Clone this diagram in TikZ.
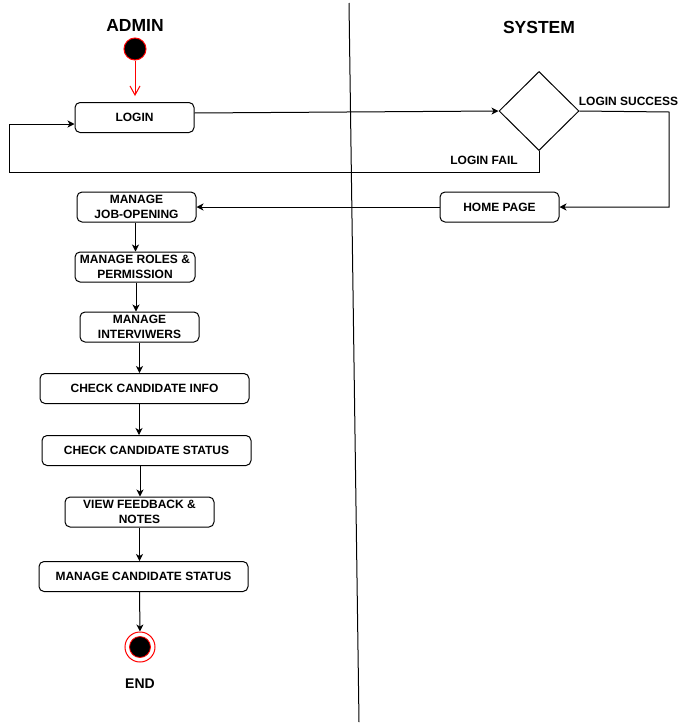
\documentclass[tikz,border=0pt]{standalone}
\usepackage{fontspec}
\setmainfont{Liberation Sans}
\usetikzlibrary{arrows.meta,shapes.geometric}
\begin{document}
\begin{tikzpicture}[x=1pt,y=-1pt,
  font=\fontsize{12}{14.5}\selectfont\bfseries,
  act/.style={draw, rounded corners=5pt, line width=1pt, minimum height=30pt,
              inner sep=0pt, align=center, fill=white},
  flow/.style={draw, line width=1pt, -{Stealth[length=7pt,width=7pt,inset=2pt]}},
  lanetitle/.style={font=\fontsize{17.5}{20}\selectfont\bfseries},
  lbl/.style={inner sep=0pt}
]
\useasboundingbox (0,0) rectangle (686,726);

% swimlane divider
\coordinate (laneTop) at (349,3);
\coordinate (laneBot) at (359,722);
\draw[line width=1pt] (laneTop) -- (laneBot);

% lane titles
\node[lanetitle] (admin) at (135,25) {ADMIN};
\node[lanetitle] (system) at (539,27) {SYSTEM};

% initial state
\node[circle, fill=black, draw=red, line width=1pt, minimum size=22pt, inner sep=0pt] (start) at (135,49) {};

% activities
\node[act, minimum width=119pt] (login) at (134.5,117.5) {LOGIN};
\node[draw, line width=1pt, diamond, aspect=1, minimum width=80pt, minimum height=79pt, inner sep=0pt] (dec) at (539,111) {};
\node[act, minimum width=119pt] (home) at (499.5,207) {HOME PAGE};
\node[act, minimum width=119pt] (job) at (136.5,207) {MANAGE\\JOB-OPENING};
\node[act, minimum width=120pt] (roles) at (135,267) {MANAGE ROLES \&\\PERMISSION};
\node[act, minimum width=119pt] (intv) at (139.5,327) {MANAGE\\INTERVIWERS};
\node[act, minimum width=209pt] (info) at (144.5,388.5) {CHECK CANDIDATE INFO};
\node[act, minimum width=209pt] (status) at (146.5,450.5) {CHECK CANDIDATE STATUS};
\node[act, minimum width=149pt] (feed) at (139.5,512) {VIEW FEEDBACK \&\\NOTES};
\node[act, minimum width=209pt] (mstat) at (143.5,576.5) {MANAGE CANDIDATE STATUS};

% final state
\node[circle, draw=red, fill=white, line width=1pt, minimum size=30pt, inner sep=0pt] (endo) at (140,647) {};
\node[circle, draw=red, fill=black, line width=0.8pt, minimum size=21pt, inner sep=0pt] (endi) at (endo) {};
\node[font=\fontsize{14}{16}\selectfont\bfseries] (endlbl) at (140,684) {END};

% guard labels
\node[lbl] (succ) at (628.5,101) {LOGIN SUCCESS};
\node[lbl] (fail) at (484,160) {LOGIN FAIL};

% connectors
\draw[red, line width=1pt, shorten >=6pt, -{Straight Barb[length=9pt,width=10pt]}] (start.south) -- (start.south |- login.north);
\draw[flow] ([yshift=4.5pt]login.east) -- (dec.west);
\coordinate (succTurn) at (669,112);
\draw[flow] (dec.east) -- (succTurn) |- (home.east);
\coordinate (failLow) at (539,172);
\coordinate (failLeft) at (9,172);
\draw[flow] (dec.south) -- (failLow) -- (failLeft) |- ([yshift=-6.5pt]login.west);
\draw[flow] (home.west) -- (job.east);
\draw[flow] ([xshift=-1pt]job.south) -- ([xshift=-1pt]job.south |- roles.north);
\draw[flow] ([xshift=1pt]roles.south) -- ([xshift=1pt]roles.south |- intv.north);
\draw[flow] (intv.south) -- (intv.south |- info.north);
\draw[flow] ([xshift=-5.5pt]info.south) -- ([xshift=-5.5pt]info.south |- status.north);
\draw[flow] ([xshift=-6.5pt]status.south) -- ([xshift=-6.5pt]status.south |- feed.north);
\draw[flow] (feed.south) -- (feed.south |- mstat.north);
\draw[flow] ([xshift=-4pt]mstat.south) -- (endo.north);
\end{tikzpicture}
\end{document}
